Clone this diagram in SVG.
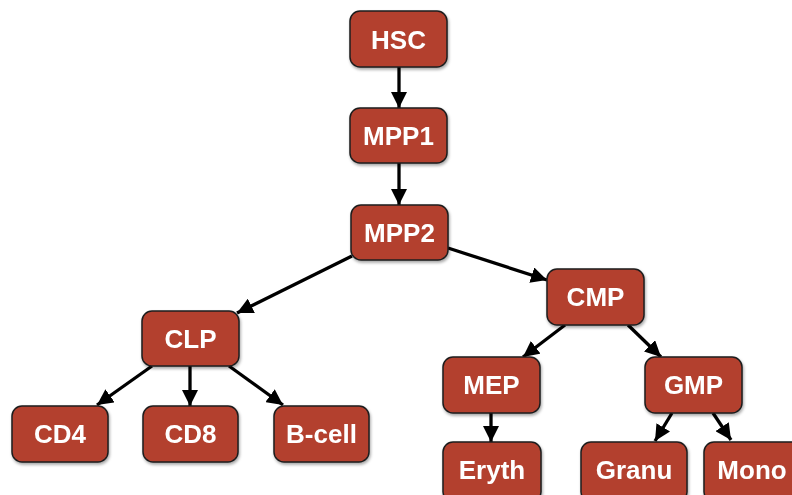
<svg xmlns="http://www.w3.org/2000/svg" width="792" height="495" viewBox="0 0 792 495">
<style>
.box{fill:#b3412f;stroke:#1e1e1e;stroke-width:1.5}
.lbl{font-family:"Liberation Sans",Arial,sans-serif;font-weight:bold;font-size:26px;fill:#ffffff;text-anchor:middle;dominant-baseline:central}
.edge{stroke:#000;stroke-width:3.3;fill:none;marker-end:url(#ah)}
</style>
<defs>
<marker id="ah" markerUnits="userSpaceOnUse" markerWidth="17" markerHeight="16" refX="16" refY="8" orient="auto">
<path d="M0,0 L16,8 L0,16 z" fill="#000"/>
</marker>
<filter id="sh" x="-10%" y="-10%" width="130%" height="140%">
<feDropShadow dx="1" dy="2" stdDeviation="1.5" flood-color="#000" flood-opacity="0.35"/>
</filter>
</defs>
<g id="connectors">
<line class="edge" x1="399" y1="67" x2="399" y2="108"/>
<line class="edge" x1="399" y1="163" x2="399" y2="205"/>
<line class="edge" x1="352" y1="256" x2="237" y2="313"/>
<line class="edge" x1="448" y1="248" x2="547" y2="280"/>
<line class="edge" x1="152" y1="366" x2="97" y2="405"/>
<line class="edge" x1="190" y1="366" x2="190" y2="406"/>
<line class="edge" x1="229" y1="366" x2="283" y2="405"/>
<line class="edge" x1="565" y1="325" x2="523" y2="357"/>
<line class="edge" x1="628" y1="325" x2="661" y2="357"/>
<line class="edge" x1="491" y1="413" x2="491" y2="442"/>
<line class="edge" x1="672" y1="413" x2="655" y2="441"/>
<line class="edge" x1="713" y1="413" x2="731" y2="440"/>
</g>
<g id="HSC" filter="url(#sh)"><rect class="box" x="350" y="11" width="97" height="56" rx="10"/><text class="lbl" x="398.5" y="40">HSC</text></g>
<g id="MPP1" filter="url(#sh)"><rect class="box" x="350" y="108" width="97" height="55" rx="10"/><text class="lbl" x="398.5" y="136">MPP1</text></g>
<g id="MPP2" filter="url(#sh)"><rect class="box" x="351" y="205" width="97" height="55" rx="10"/><text class="lbl" x="399.5" y="233">MPP2</text></g>
<g id="CMP" filter="url(#sh)"><rect class="box" x="547" y="269" width="97" height="56" rx="10"/><text class="lbl" x="595.5" y="297">CMP</text></g>
<g id="CLP" filter="url(#sh)"><rect class="box" x="142" y="311" width="97" height="55" rx="10"/><text class="lbl" x="190.5" y="339">CLP</text></g>
<g id="CD4" filter="url(#sh)"><rect class="box" x="12" y="406" width="96" height="56" rx="10"/><text class="lbl" x="60" y="434">CD4</text></g>
<g id="CD8" filter="url(#sh)"><rect class="box" x="143" y="406" width="95" height="56" rx="10"/><text class="lbl" x="190.5" y="434">CD8</text></g>
<g id="B-cell" filter="url(#sh)"><rect class="box" x="274" y="406" width="95" height="56" rx="10"/><text class="lbl" x="321.5" y="434">B-cell</text></g>
<g id="MEP" filter="url(#sh)"><rect class="box" x="443" y="357" width="97" height="56" rx="10"/><text class="lbl" x="491.5" y="385">MEP</text></g>
<g id="GMP" filter="url(#sh)"><rect class="box" x="645" y="357" width="97" height="56" rx="10"/><text class="lbl" x="693.5" y="385">GMP</text></g>
<g id="Eryth" filter="url(#sh)"><rect class="box" x="443" y="442" width="98" height="60" rx="10"/><text class="lbl" x="492" y="470">Eryth</text></g>
<g id="Granu" filter="url(#sh)"><rect class="box" x="581" y="442" width="106" height="60" rx="10"/><text class="lbl" x="634" y="470">Granu</text></g>
<g id="Mono" filter="url(#sh)"><rect class="box" x="704" y="442" width="100" height="60" rx="10"/><text class="lbl" x="752" y="470">Mono</text></g>
</svg>
